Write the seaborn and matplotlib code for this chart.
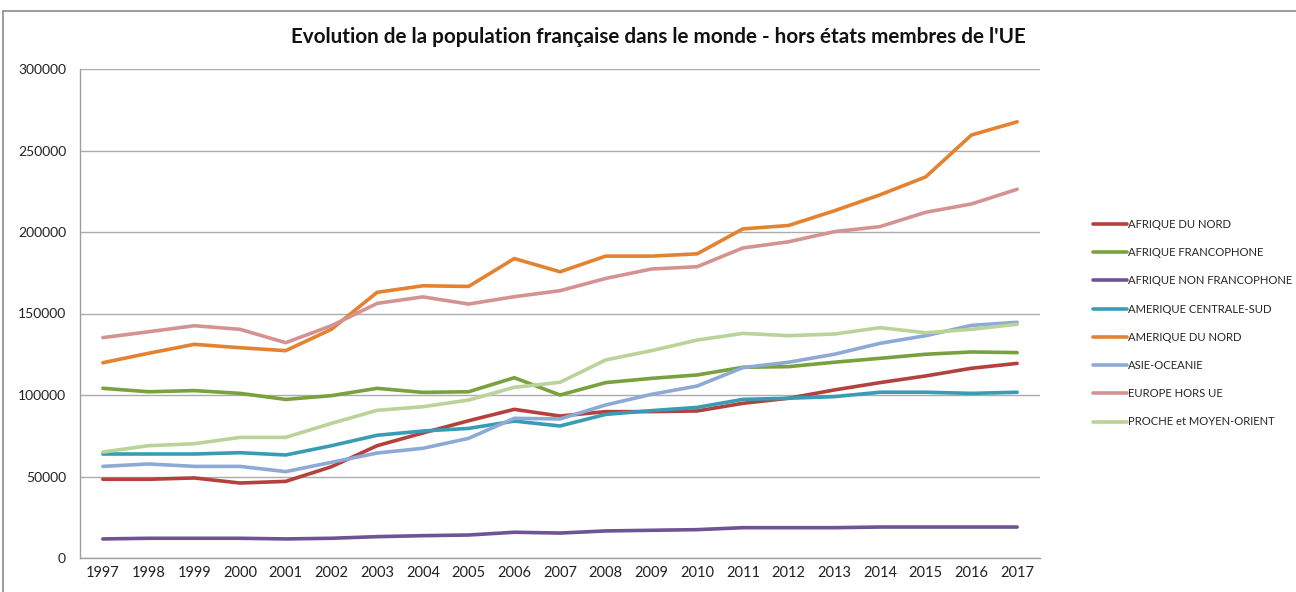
import matplotlib
matplotlib.use("Agg")
import matplotlib.pyplot as plt
import seaborn as sns
import pandas as pd
from matplotlib.lines import Line2D

years = list(range(1997, 2018))

afrique_du_nord = [48300, 48300, 49100, 46000, 47000, 56000, 68900, 76700, 84200, 91200, 87100,
                   89800, 89800, 90200, 94900, 98000, 103100, 107600, 111700, 116400, 119400]
afrique_francophone = [104100, 102000, 102700, 101000, 97300, 99600, 104100, 101600, 102000, 110600, 100000,
                       107600, 110200, 112300, 117000, 117400, 120100, 122500, 125000, 126400, 126000]
afrique_non_francophone = [11700, 12100, 12100, 12100, 11700, 12100, 13100, 13700, 14100, 15800, 15300,
                           16600, 17000, 17400, 18600, 18600, 18600, 19000, 19000, 19000, 19000]
amerique_centrale_sud = [63800, 63800, 63800, 64600, 63200, 68900, 75300, 77900, 79500, 84000, 81000,
                         88100, 90400, 92400, 97300, 98000, 99000, 101700, 101700, 101000, 101700]
amerique_du_nord = [119800, 125600, 131100, 129000, 127200, 140300, 163000, 167000, 166600, 183700, 175600,
                    185200, 185200, 186600, 201900, 204000, 213000, 222800, 233800, 259500, 267600]
asie_oceanie = [56200, 57700, 56200, 56200, 53000, 58700, 64400, 67300, 73400, 85700, 85300,
                93900, 100400, 105500, 116800, 120100, 125000, 131700, 136400, 142700, 144600]
europe_hors_ue = [135200, 138800, 142500, 140300, 132100, 142500, 156200, 160200, 155800, 160300, 164000,
                  171500, 177300, 178700, 190200, 194000, 200200, 203300, 212100, 217200, 226200]
proche_moyen_orient = [65000, 68900, 70100, 74000, 74000, 82600, 90600, 92800, 96900, 104700, 107800,
                       121500, 127200, 133700, 137800, 136400, 137400, 141300, 138200, 140300, 143400]

series_names = ["AFRIQUE DU NORD", "AFRIQUE FRANCOPHONE", "AFRIQUE NON FRANCOPHONE",
                "AMERIQUE CENTRALE-SUD", "AMERIQUE DU NORD", "ASIE-OCEANIE",
                "EUROPE HORS UE", "PROCHE et MOYEN-ORIENT"]
series_values = [afrique_du_nord, afrique_francophone, afrique_non_francophone,
                 amerique_centrale_sud, amerique_du_nord, asie_oceanie,
                 europe_hors_ue, proche_moyen_orient]
colors = ["#B5413E", "#79A13D", "#6E5494", "#389DB4", "#E5822F", "#8DA9D6", "#D49392", "#B9D399"]

yticks = [0, 50000, 100000, 150000, 200000, 250000, 300000]
title = "Evolution de la population française dans le monde - hors états membres de l'UE"

rows = []
for name, vals in zip(series_names, series_values):
    for y, v in zip(years, vals):
        rows.append({"year": y, "value": v, "region": name})
df = pd.DataFrame(rows)

sns.set_theme(style="white")
plt.rcParams["font.family"] = ["Lato", "DejaVu Sans"]

fig = plt.figure(figsize=(12.96, 5.92), dpi=100)
ax = fig.add_axes([80 / 1296, 1 - 558 / 592, 960 / 1296, 489 / 592])

sns.lineplot(data=df, x="year", y="value", hue="region", hue_order=series_names,
             palette=dict(zip(series_names, colors)), linewidth=2.6, ax=ax, legend=False)

ax.set_xlim(1996.5, 2017.5)
ax.set_ylim(0, 300000)
ax.set_yticks(yticks)
ax.set_yticklabels([str(t) for t in yticks], fontsize=10, color="#222222")
ax.set_xticks(years)
ax.set_xticklabels([str(y) for y in years], fontsize=10.5, color="#222222")
ax.tick_params(axis="both", length=0, pad=6)
ax.tick_params(axis="y", pad=10)
ax.set_xlabel("")
ax.set_ylabel("")
ax.grid(axis="y", color="#ABABAB", linewidth=1)
ax.set_axisbelow(True)
for s in ["top", "right"]:
    ax.spines[s].set_visible(False)
for s in ["left", "bottom"]:
    ax.spines[s].set_color("#9F9F9F")
    ax.spines[s].set_linewidth(1)

handles = [Line2D([0], [0], color=c, lw=2.6) for c in colors]
fig.legend(handles, series_names, loc="upper left",
           bbox_to_anchor=(1093 / 1296, 1 - 219 / 592), frameon=False,
           prop={"family": ["Lato", "DejaVu Sans"], "size": 8.1},
           handlelength=3.0, handletextpad=0.1, labelspacing=1.53,
           borderaxespad=0, borderpad=0)

fig.text(658 / 1296, 1 - 37 / 592, title, ha="center", va="center",
         fontsize=14.9, fontweight="bold", color="#111111")

# chart border (top and left edges visible)
fig.add_artist(Line2D([3 / 1296, 3 / 1296], [0, 1 - 11 / 592], transform=fig.transFigure,
                      color="#8C8C8C", lw=1.2))
fig.add_artist(Line2D([3 / 1296, 1], [1 - 11 / 592, 1 - 11 / 592], transform=fig.transFigure,
                      color="#8C8C8C", lw=1.2))

fig.savefig("out.png", dpi=100, facecolor="white")
